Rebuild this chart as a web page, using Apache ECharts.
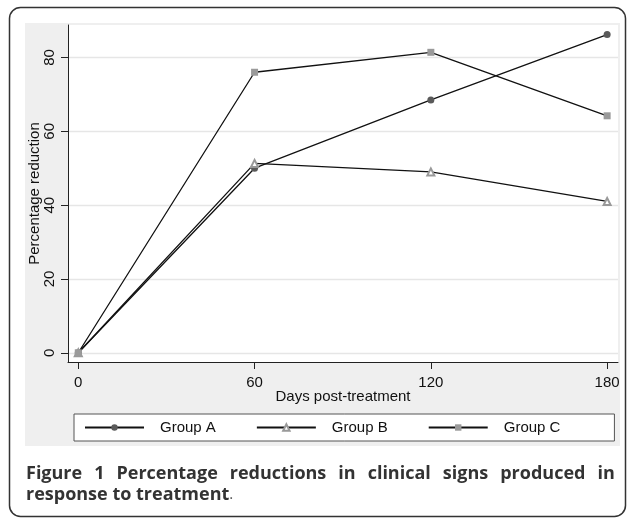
<!DOCTYPE html>
<html>
<head>
<meta charset="utf-8">
<script src="https://cdn.jsdelivr.net/npm/echarts@6/dist/echarts.min.js"></script>
<style>html,body{margin:0;padding:0;background:#fff}#c{width:627px;height:518px}</style>
</head>
<body>
<div id="c"></div>
<script>
var days = [0, 60, 120, 180];
var groupA = [0, 50, 68.5, 86.2];
var groupB = [0, 51.3, 49, 41];
var groupC = [0, 76, 81.4, 64.2];
var xTicks = [0, 60, 120, 180];
var yTicks = [0, 20, 40, 60, 80];
var seriesNames = ['Group A', 'Group B', 'Group C'];
var captionLine1 = ['Figure', '1', 'Percentage', 'reductions', 'in', 'clinical', 'signs', 'produced', 'in'];
var captionLine2 = 'response to treatment';

function pairs(vals) { return days.map(function (d, i) { return [d, vals[i]]; }); }

var capFont = 'bold 18px "Open Sans"';
var line1Text = captionLine1.map(function (w) { return '{b|' + w + '}'; }).join('{s| }');

var chart = echarts.init(document.getElementById('c'), null, {renderer: 'canvas'});
chart.setOption({
  backgroundColor: '#fff',
  animation: false,
  graphic: [
    {type: 'rect', z: -20, shape: {x: 9.5, y: 7.5, width: 616, height: 509, r: 11}, style: {fill: '#fff', stroke: '#333', lineWidth: 1.5}},
    {type: 'rect', z: -10, shape: {x: 25, y: 23, width: 595, height: 423}, style: {fill: '#efefef'}},
    {type: 'text', left: 26, top: 465, style: {text: line1Text, font: capFont, fill: '#333',
      rich: {b: {font: capFont, fill: '#333'}, s: {font: capFont, width: 12}}}},
    {type: 'text', left: 26, top: 486, style: {text: '{b|' + captionLine2 + '}{n|.}', font: capFont, fill: '#333',
      rich: {b: {font: capFont, fill: '#333'}, n: {font: '15px "Open Sans"', fill: '#555'}}}}
  ],
  grid: {left: 68, right: 9, top: 25, bottom: 156, show: true, backgroundColor: '#fff', borderWidth: 0, z: 0},
  legend: {
    data: seriesNames,
    left: 74, top: 414,
    orient: 'horizontal',
    backgroundColor: '#fff', borderColor: '#555', borderWidth: 1,
    padding: [6, 54, 6, 10],
    itemGap: 40, itemWidth: 59, itemHeight: 8,
    textStyle: {fontFamily: 'Liberation Sans', fontSize: 15, color: '#111', padding: [0, 0, 0, 11]}
  },
  xAxis: {
    type: 'value', min: -3.5, max: 183.7,
    name: 'Days post-treatment', nameLocation: 'middle', nameGap: 27, nameMoveOverlap: false,
    nameTextStyle: {fontFamily: 'Liberation Sans', fontSize: 15, color: '#111'},
    axisLine: {show: true, onZero: false, lineStyle: {color: '#222', width: 1}},
    axisTick: {show: true, length: 7, customValues: xTicks, lineStyle: {color: '#222'}},
    axisLabel: {customValues: xTicks, margin: 13.5, fontFamily: 'Liberation Sans', fontSize: 15, color: '#111'},
    splitLine: {show: false}
  },
  yAxis: {
    type: 'value', min: -2.5, max: 88.8,
    name: 'Percentage reduction', nameLocation: 'middle', nameGap: 26, nameRotate: 90, nameMoveOverlap: false,
    nameTextStyle: {fontFamily: 'Liberation Sans', fontSize: 15, color: '#111'},
    axisLine: {show: true, onZero: false, lineStyle: {color: '#222', width: 1}},
    axisTick: {show: true, length: 7, customValues: yTicks, lineStyle: {color: '#222'}},
    axisLabel: {customValues: yTicks, rotate: 90, margin: 11, fontFamily: 'Liberation Sans', fontSize: 15, color: '#111'},
    splitLine: {show: true, lineStyle: {color: '#e6e6e6', width: 1.3}}
  },
  series: [
    {name: seriesNames[0], type: 'line', data: pairs(groupA), symbol: 'circle', symbolSize: 7,
     itemStyle: {color: '#5a5a5a'}, lineStyle: {color: '#111', width: 1.3}},
    {name: seriesNames[1], type: 'line', data: pairs(groupB), symbol: 'emptyTriangle', symbolSize: 7,
     itemStyle: {color: '#999', borderColor: '#999', borderWidth: 1}, lineStyle: {color: '#111', width: 1.3}},
    {name: seriesNames[2], type: 'line', data: pairs(groupC), symbol: 'rect', symbolSize: 7,
     itemStyle: {color: '#9a9a9a'}, lineStyle: {color: '#111', width: 1.3}}
  ]
});
</script>
</body>
</html>
